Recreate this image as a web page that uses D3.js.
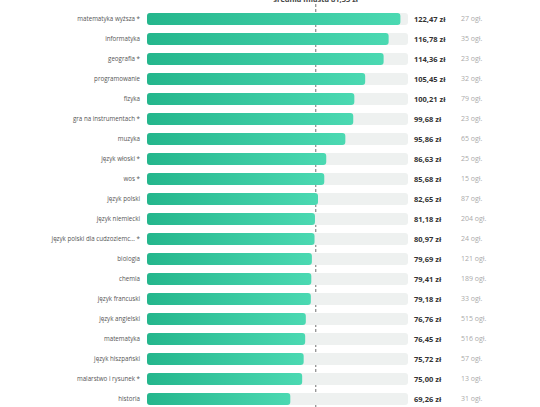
<!DOCTYPE html>
<html>
<head>
<meta charset="utf-8">
<script src="https://cdn.jsdelivr.net/npm/d3@7"></script>
<style>
    body { margin: 0; background: #fff; }
    svg { display: block; font-family: "Open Sans", sans-serif; }
</style>
</head>
<body>
<div id="chart"></div>
<script>
// data
const subjects = [
    "matematyka wyższa *", "informatyka", "geografia *", "programowanie", "fizyka",
    "gra na instrumentach *", "muzyka", "język włoski *", "wos *", "język polski",
    "język niemiecki", "język polski dla cudzoziemc... *", "biologia", "chemia",
    "język francuski", "język angielski", "matematyka", "język hiszpański",
    "malarstwo i rysunek *", "historia"
];
const prices = [
    122.47, 116.78, 114.36, 105.45, 100.21, 99.68, 95.86, 86.63, 85.68, 82.65,
    81.18, 80.97, 79.69, 79.41, 79.18, 76.76, 76.45, 75.72, 75.00, 69.26
];
const counts = [
    27, 35, 23, 32, 79, 23, 65, 25, 15, 87,
    204, 24, 121, 189, 33, 515, 516, 57, 13, 31
];
const cityAverage = 81.55;

const width  = 540,
      height = 407;

const margin = { top: 9, left: 147 };
const trackWidth = 261,
      rowHeight  = 20;

const fmt = v => v.toFixed( 2 ).replace( ".", "," ) + " zł";

const x = d3.scaleLinear()
    .domain( [ 0, d3.max( prices ) * 1.03 ] )
    .range( [ margin.left, margin.left + trackWidth ] );

const y = d3.scaleBand()
    .domain( subjects )
    .range( [ margin.top, margin.top + rowHeight * subjects.length ] )
    .paddingInner( 0.4 )
    .paddingOuter( 0.2 );

const rows = subjects.map( ( s, i ) => ( { name: s, price: prices[ i ], count: counts[ i ] } ) );

const svg = d3.select( "#chart" )
    .append( "svg" )
    .attr( "width", width )
    .attr( "height", height );

const grad = svg.append( "defs" )
    .append( "linearGradient" )
    .attr( "id", "barGrad" )
    .attr( "x1", "0%" ).attr( "x2", "100%" )
    .attr( "y1", "0%" ).attr( "y2", "0%" );
grad.append( "stop" ).attr( "offset", "0%" ).attr( "stop-color", "#24b68c" );
grad.append( "stop" ).attr( "offset", "100%" ).attr( "stop-color", "#4bd9b2" );

// average line
svg.append( "line" )
    .attr( "x1", x( cityAverage ) ).attr( "x2", x( cityAverage ) )
    .attr( "y1", 4 ).attr( "y2", height )
    .attr( "stroke", "#888" )
    .attr( "stroke-width", 1.2 )
    .attr( "stroke-dasharray", "3,2" );

svg.append( "text" )
    .attr( "x", x( cityAverage ) )
    .attr( "y", 2 )
    .attr( "text-anchor", "middle" )
    .attr( "font-size", 7.5 )
    .attr( "font-weight", 700 )
    .attr( "fill", "#444" )
    .text( "średnia miasta " + fmt( cityAverage ) );

const row = svg.append( "g" )
    .selectAll( "g" )
    .data( rows )
    .join( "g" );

row.append( "rect" )
    .attr( "x", x( 0 ) )
    .attr( "y", d => y( d.name ) )
    .attr( "width", trackWidth )
    .attr( "height", y.bandwidth() )
    .attr( "rx", 3 )
    .attr( "fill", "#eef1f0" );

row.append( "rect" )
    .attr( "x", x( 0 ) )
    .attr( "y", d => y( d.name ) )
    .attr( "width", d => x( d.price ) - x( 0 ) )
    .attr( "height", y.bandwidth() )
    .attr( "rx", 3 )
    .attr( "fill", "url(#barGrad)" );

row.append( "text" )
    .attr( "x", x( 0 ) - 7 )
    .attr( "y", d => y( d.name ) + y.bandwidth() / 2 )
    .attr( "dy", "0.35em" )
    .attr( "text-anchor", "end" )
    .attr( "font-size", 6.2 )
    .attr( "fill", "#555" )
    .text( d => d.name );

row.append( "text" )
    .attr( "x", 414 )
    .attr( "y", d => y( d.name ) + y.bandwidth() / 2 )
    .attr( "dy", "0.35em" )
    .attr( "font-size", 7.5 )
    .attr( "font-weight", 700 )
    .attr( "fill", "#333" )
    .text( d => fmt( d.price ) );

row.append( "text" )
    .attr( "x", 461 )
    .attr( "y", d => y( d.name ) + y.bandwidth() / 2 )
    .attr( "dy", "0.35em" )
    .attr( "font-size", 7 )
    .attr( "fill", "#aaa" )
    .text( d => d.count + " ogł." );
</script>
</body>
</html>
